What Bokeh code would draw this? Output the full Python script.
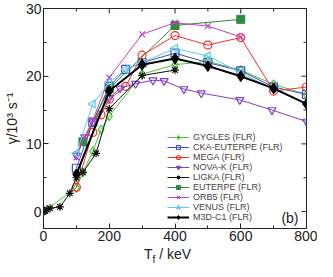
import math
from bokeh.plotting import figure
from bokeh.models import Range1d, SingleIntervalTicker, Label, Legend, LegendItem, Div
from bokeh.layouts import column
from bokeh.embed import file_html
from bokeh.resources import INLINE

# ---- data ----
gygles_x = [0, 100, 120, 150, 175, 200, 300, 400, 500, 600, 700, 800]
gygles_y = [0, 3.5, 5.8, 8.9, 12.1, 14.1, 20.3, 21.7, 22.2, 20.9, 18.8, 17.3]

cka_x = [100, 150, 200, 250, 300, 400, 500, 600, 700, 800]
cka_y = [6.4, 13.2, 18.5, 21.0, 22.0, 23.4, 22.0, 20.8, 18.4, 17.3]

mega_x = [100, 150, 175, 200, 250, 300, 400, 500, 600, 700, 800]
mega_y = [3.6, 11.7, 14.3, 16.6, 18.5, 23.1, 26.0, 24.6, 25.7, 17.8, 18.4]

novak_x = [100, 125, 150, 200, 233, 280, 333, 367, 427, 480, 597, 695, 800]
novak_y = [8.3, 11.0, 13.2, 16.8, 18.2, 18.9, 19.4, 19.3, 18.1, 17.5, 16.5, 15.0, 13.3]

ligka_x = [0, 5, 10, 20, 50, 80, 100, 120, 160, 200, 300, 400]
ligka_y = [0, 0.1, 0.3, 0.5, 0.7, 2.7, 5.0, 5.8, 8.6, 15.2, 20.1, 20.9]

euterpe_x = [120, 200, 400, 600]
euterpe_y = [10.3, 18.2, 27.5, 28.4]

orb5_x = [100, 125, 150, 200, 300, 400, 500, 600]
orb5_y = [8.0, 11.0, 13.5, 19.8, 26.2, 27.9, 27.4, 25.8]

venus_x = [100, 150, 200, 250, 300, 400, 500, 600, 700, 800]
venus_y = [8.6, 15.9, 19.1, 21.0, 22.0, 24.1, 23.0, 20.5, 18.1, 15.9]

m3d_x = [100, 200, 300, 400, 500, 600, 700, 800]
m3d_y = [5.5, 17.8, 21.7, 22.6, 21.5, 20.0, 18.2, 15.9]

x_min, x_max = 0, 800
y_min, y_max = -2.5, 30
x_major = [0, 200, 400, 600, 800]
x_minor = [100, 300, 500, 700]
y_major = [0, 10, 20, 30]
y_minor = [5, 15, 25]

FONT = "Liberation Sans"
INK = "#222222"

p = figure(width=317, height=244, output_backend="svg", toolbar_location=None,
           x_range=Range1d(x_min, x_max), y_range=Range1d(y_min, y_max),
           min_border_left=30, min_border_right=11, min_border_top=8, min_border_bottom=16)
p.grid.visible = False
p.outline_line_color = INK
p.outline_line_width = 1
p.background_fill_color = "white"
p.border_fill_color = "white"

for ax in (p.xaxis[0], p.yaxis[0]):
    ax.major_tick_in = 5
    ax.major_tick_out = 0
    ax.minor_tick_in = 3
    ax.minor_tick_out = 0
    ax.axis_line_color = INK
    ax.major_tick_line_color = INK
    ax.minor_tick_line_color = INK
    ax.major_label_text_font = FONT
    ax.major_label_text_color = INK
    ax.major_label_text_font_size = "14px"
    ax.major_label_standoff = 2

p.xaxis.ticker = SingleIntervalTicker(interval=200, num_minor_ticks=2)
p.yaxis.ticker = SingleIntervalTicker(interval=10, num_minor_ticks=2)
p.yaxis.axis_label = "γ/10³ s⁻¹"
p.yaxis.axis_label_text_font = FONT
p.yaxis.axis_label_text_font_style = "normal"
p.yaxis.axis_label_text_font_size = "14px"
p.yaxis.axis_label_text_color = INK
p.yaxis.axis_label_standoff = 3

# mirrored inward ticks on top and right (half of each dash is clipped by the frame)
p.scatter(x_major, [y_max] * len(x_major), marker="dash", angle=math.pi / 2, size=10, line_color=INK)
p.scatter(x_minor, [y_max] * len(x_minor), marker="dash", angle=math.pi / 2, size=6, line_color=INK)
p.scatter([x_max] * len(y_major), y_major, marker="dash", size=10, line_color=INK)
p.scatter([x_max] * len(y_minor), y_minor, marker="dash", size=6, line_color=INK)

series = [
    ("GYGLES (FLR)", gygles_x, gygles_y, "#4fc436", "diamond", False, 1, 0),
    ("CKA-EUTERPE (FLR)", cka_x, cka_y, "#3a50c4", "square", False, 1, 0),
    ("MEGA (FLR)", mega_x, mega_y, "#ff2a2a", "circle", False, 1, 0),
    ("NOVA-K (FLR)", novak_x, novak_y, "#8040c4", "inverted_triangle", False, 1, 0),
    ("LIGKA (FLR)", ligka_x, ligka_y, "#111111", "asterisk", False, 1, 0),
    ("EUTERPE (FLR)", euterpe_x, euterpe_y, "#2a8c3a", "square", True, 1, 0),
    ("ORB5 (FLR)", orb5_x, orb5_y, "#c040c0", "x", False, 1, 0),
    ("VENUS (FLR)", venus_x, venus_y, "#66c8e8", "triangle", False, 1, math.pi / 2),
    ("M3D-C1 (FLR)", m3d_x, m3d_y, "#000000", "diamond", True, 2, 0),
]

items = []
for name, xs, ys, col, mk, filled, lw, ang in series:
    r1 = p.line(xs, ys, line_color=col, line_width=lw)
    size = 9 if mk == "diamond" else 8
    if name.startswith("M3D"):
        size = 11
    r2 = p.scatter(xs, ys, marker=mk, size=size, angle=ang,
                   line_color=col, line_width=1.2 if not filled else 1,
                   fill_color=col if filled else None)
    items.append(LegendItem(label=name, renderers=[r1, r2]))

leg = Legend(items=items, location=(124, 6), padding=0, margin=0, spacing=0,
             glyph_width=22, glyph_height=10, label_height=10, label_standoff=4,
             label_text_font=FONT, label_text_font_size="9px", label_text_color="#444444",
             background_fill_alpha=0, border_line_alpha=0)
p.add_layout(leg)

p.add_layout(Label(x=x_max, y=3, x_units="data", y_units="screen", x_offset=-8,
                   text="(b)", text_font=FONT, text_font_size="14px",
                   text_color=INK, text_align="right"))

xlabel = Div(text='T<sub style="font-size:10px">f</sub> / keV', width=120, height=14,
             margin=(3, 0, 0, 144),
             styles={"font-family": FONT, "font-size": "14px", "color": INK,
                     "line-height": "14px", "white-space": "nowrap"})

layout = column(p, xlabel, spacing=0)
open("out.html", "w").write(file_html(layout, INLINE))
